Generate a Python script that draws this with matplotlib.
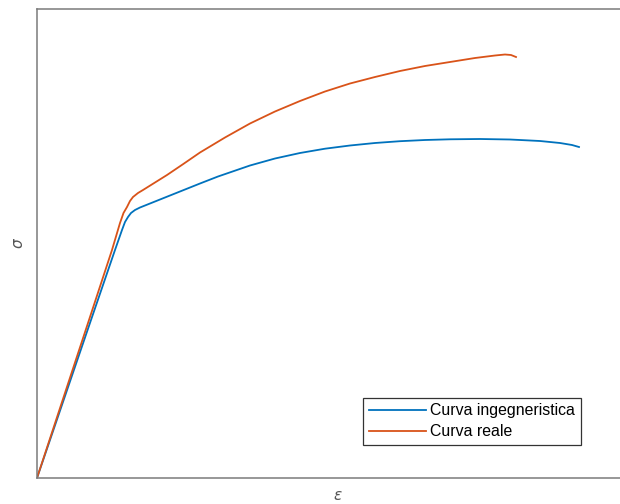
import matplotlib
matplotlib.use("Agg")
import matplotlib.pyplot as plt

# Engineering stress-strain curve
eng_strain = [0.0, 0.054, 0.078, 0.085, 0.088, 0.091, 0.094, 0.098, 0.103, 0.113,
              0.128, 0.143, 0.163, 0.181, 0.213, 0.238, 0.263, 0.288, 0.313, 0.338,
              0.363, 0.388, 0.413, 0.443, 0.473, 0.503, 0.523, 0.535, 0.542]
eng_stress = [0, 158, 228, 248, 256, 261, 265, 268, 270.5, 274.5,
              280.5, 286.5, 294.5, 301.5, 312.5, 319.5, 325, 329.3, 332.5, 335,
              336.8, 338, 338.7, 339, 338.5, 337, 335, 333, 331]

# True stress-strain curve
true_strain = [0.0, 0.052, 0.075, 0.083, 0.0865, 0.090, 0.093, 0.096, 0.101, 0.106,
               0.118, 0.130, 0.146, 0.163, 0.188, 0.213, 0.238, 0.263, 0.288, 0.313,
               0.338, 0.363, 0.388, 0.413, 0.438, 0.458, 0.468, 0.474, 0.479]
true_stress = [0, 158, 228, 255, 265, 271, 277, 281, 285, 288,
               295.5, 303, 313.8, 325.5, 340.5, 354.5, 366.5, 377, 386.5, 394.5,
               401, 407, 412, 416, 420, 422.5, 423.5, 423, 421]

labels = ["Curva ingegneristica", "Curva reale"]

W, H = 620, 504
fig = plt.figure(figsize=(W / 100, H / 100), dpi=100)
ax = fig.add_axes([37 / W, (H - 478) / H, (625 - 37) / W, (478 - 9) / H])

ax.plot(eng_strain, eng_stress, color="#0072BD", lw=1.3, label=labels[0],
        solid_joinstyle="round")
ax.plot(true_strain, true_stress, color="#D95319", lw=1.3, label=labels[1],
        solid_joinstyle="round")

ax.set_xlim(0, 0.588)
ax.set_ylim(0, 469)
ax.set_xticks([])
ax.set_yticks([])
for s in ax.spines.values():
    s.set_color("#7a7a7a")
    s.set_linewidth(1.1)

fig.text(338 / W, 1 - 496 / H, "ε", fontsize=11, fontstyle="italic",
         color="#555555", ha="center", va="center")
fig.text(18 / W, 1 - 243 / H, "σ", fontsize=11, fontstyle="italic",
         color="#555555", ha="center", va="center", rotation=90)

leg = ax.legend(loc="lower left", bbox_to_anchor=((363 - 37) / 588, (478 - 445) / 469),
                prop={"family": "Liberation Sans", "size": 11.4},
                frameon=True, fancybox=False, framealpha=1, edgecolor="#333333",
                handlelength=3.6, handletextpad=0.3, borderpad=0.35,
                labelspacing=0.4, borderaxespad=0)
leg.get_frame().set_linewidth(0.9)

fig.savefig("out.png", dpi=100)
